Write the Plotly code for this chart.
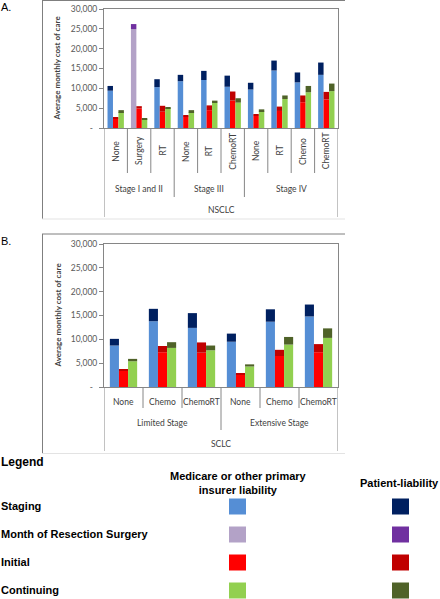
import plotly.graph_objects as go

W, H = 440, 599

# ---------------- Data: Panel A (NSCLC) ----------------
a_groups = ["Stage I and II"] * 3 + ["Stage III"] * 3 + ["Stage IV"] * 4
a_treat = ["None", "Surgery", "RT", "None", "RT", "ChemoRT", "None", "RT", "Chemo", "ChemoRT"]
a_staging_med = [9400, None, 10300, 11800, 12100, 10400, 9700, 14500, 11500, 13400]
a_staging_pat = [1200, None, 2000, 1600, 2300, 2800, 1700, 2500, 2500, 3100]
a_surgery_med = [None, 24900, None, None, None, None, None, None, None, None]
a_surgery_pat = [None, 1300, None, None, None, None, None, None, None, None]
a_initial_med = [2400, 4900, 4100, 2900, 4500, 6900, 3100, 4300, 6500, 7200]
a_initial_pat = [300, 600, 1500, 300, 1200, 2300, 200, 1100, 1700, 1900]
a_cont_med = [4000, 2200, 5000, 4000, 6300, 6400, 4200, 7300, 9000, 9300]
a_cont_pat = [500, 200, 300, 500, 600, 1100, 500, 900, 1600, 1900]

# ---------------- Data: Panel B (SCLC) ----------------
b_groups = ["Limited Stage"] * 3 + ["Extensive Stage"] * 3
b_treat = ["None", "Chemo", "ChemoRT", "None", "Chemo", "ChemoRT"]
b_staging_med = [8700, 13800, 12400, 9500, 13700, 14800]
b_staging_pat = [1400, 2600, 3100, 1700, 2600, 2500]
b_initial_med = [3400, 7300, 7200, 2700, 6500, 7300]
b_initial_pat = [200, 1300, 2150, 100, 1300, 1700]
b_cont_med = [5400, 8200, 7700, 4300, 8900, 10300]
b_cont_pat = [500, 1200, 1000, 450, 1600, 2000]

y_tickvals = [0, 5000, 10000, 15000, 20000, 25000, 30000]
y_ticktext = ["-\u00a0\u00a0", "5,000", "10,000", "15,000", "20,000", "25,000", "30,000"]

C = dict(stg_med="#558ED5", stg_pat="#002060", surg_med="#B3A2C7", surg_pat="#7030A0",
         init_med="#FF0000", init_pat="#C00000", cont_med="#92D050", cont_pat="#4F6228")

FONT = "Lato"
TXT = "#404040"
LINE = "#868686"


def py(p):
    return 1 - p / H


def pxx(p):
    return p / W


fig = go.Figure()


def base_of(vals):
    return [v if v is not None else 0 for v in vals]


def add_panel(xa, ya, groups, treat, series):
    cats = [f"{g} | {t}" for g, t in zip(groups, treat)]
    for med, pat, cm, cp, og in series:
        fig.add_trace(go.Bar(x=cats, y=med, marker_color=cm, marker_line_width=0,
                             offsetgroup=og, xaxis=xa, yaxis=ya, showlegend=False))
        fig.add_trace(go.Bar(x=cats, y=pat, base=base_of(med), marker_color=cp,
                             marker_line_width=0, offsetgroup=og, xaxis=xa, yaxis=ya,
                             showlegend=False))


add_panel("x", "y", a_groups, a_treat, [
    (a_staging_med, a_staging_pat, C["stg_med"], C["stg_pat"], "a"),
    (a_surgery_med, a_surgery_pat, C["surg_med"], C["surg_pat"], "a"),
    (a_initial_med, a_initial_pat, C["init_med"], C["init_pat"], "b"),
    (a_cont_med, a_cont_pat, C["cont_med"], C["cont_pat"], "c"),
])
add_panel("x2", "y2", b_groups, b_treat, [
    (b_staging_med, b_staging_pat, C["stg_med"], C["stg_pat"], "a"),
    (b_initial_med, b_initial_pat, C["init_med"], C["init_pat"], "b"),
    (b_cont_med, b_cont_pat, C["cont_med"], C["cont_pat"], "c"),
])

xdom = [pxx(104), pxx(338)]
ydomA = [py(128), py(9)]
ydomB = [py(387), py(244)]

xcommon = dict(showticklabels=False, ticks="", showline=True, linecolor=LINE, linewidth=1,
               mirror=True, showgrid=False, zeroline=False, fixedrange=True, automargin=False)
ycommon = dict(range=[0, 30000], tickvals=y_tickvals, ticktext=y_ticktext, showline=True,
               linecolor=LINE, linewidth=1, mirror=True, ticks="outside", ticklen=4,
               tickcolor=LINE, showgrid=False, zeroline=False, fixedrange=True, automargin=False,
               tickfont=dict(family=FONT, size=8.5, color="#595959"))

fig.update_layout(
    width=W, height=H, margin=dict(l=0, r=0, t=0, b=0, autoexpand=False),
    paper_bgcolor="white", plot_bgcolor="white",
    barmode="group", bargap=0.3, bargroupgap=0,
    xaxis=dict(domain=xdom, range=[-0.5, len(a_treat) - 0.5], anchor="y", **xcommon),
    yaxis=dict(domain=ydomA, anchor="x", **ycommon),
    xaxis2=dict(domain=xdom, range=[-0.5, len(b_treat) - 0.5], anchor="y2", **xcommon),
    yaxis2=dict(domain=ydomB, anchor="x2", **ycommon),
    font=dict(family=FONT, color=TXT),
)

shapes = []
annotations = []


def line(x0, y0, x1, y1, xref="paper", color=LINE, width=1):
    shapes.append(dict(type="line", xref=xref, yref="paper", x0=x0, y0=y0, x1=x1, y1=y1,
                       line=dict(color=color, width=width)))


def text(x, y, s, xref="paper", size=8.5, angle=0, bold=False, color=TXT, family=FONT,
         xanchor="center", yanchor="middle"):
    if bold:
        s = f"<b>{s}</b>"
    annotations.append(dict(x=x, y=y, xref=xref, yref="paper", text=s, showarrow=False,
                            textangle=angle, xanchor=xanchor, yanchor=yanchor, borderpad=0,
                            font=dict(family=family, size=size, color=color)))


def cat_axis(xref, groups, treat, outer, axis_y, lvl1_y, lvl2_y, lvl3_y,
             lab_y, grp_y, outer_y, rotate):
    n = len(treat)
    for i in range(n + 1):
        xpos = i - 0.5
        if i == 0 or i == n:
            yend = lvl3_y
        elif groups[i] != groups[i - 1]:
            yend = lvl2_y
        else:
            yend = lvl1_y
        line(xpos, py(axis_y), xpos, py(yend), xref=xref)
    for i, t in enumerate(treat):
        text(i, py(lab_y), t, xref=xref, size=8.5, angle=-90 if rotate else 0)
    uniq = []
    for g in groups:
        if g not in uniq:
            uniq.append(g)
    for g in uniq:
        idx = [i for i, gg in enumerate(groups) if gg == g]
        text(sum(idx) / len(idx), py(grp_y), g, xref=xref, size=8.5)
    text((n - 1) / 2, py(outer_y), outer, xref=xref, size=8.5)


cat_axis("x", a_groups, a_treat, "NSCLC", 128, 173, 197, 217, 151, 189, 210, True)
cat_axis("x2", b_groups, b_treat, "SCLC", 387, 408, 430, 451, 401.5, 423, 444, False)

# outer frames
for top, bot in [(0.5, 219), (234, 453.5)]:
    line(pxx(42.5), py(top), pxx(42.5), py(bot), color="#7f7f7f")
    line(pxx(42), py(top), pxx(345), py(top), color="#7f7f7f")
    line(pxx(42), py(bot), pxx(345), py(bot), color="#e3e3e3")

# y-axis titles
text(pxx(57), py(68.5), "Average monthly cost of care", size=8, angle=-90, bold=True)
text(pxx(57), py(315.5), "Average monthly cost of care", size=8, angle=-90, bold=True)

# panel letters
LF = "Liberation Sans"
text(0, py(7.5), "A.", size=11, color="#000000", family=LF, xanchor="left")
text(0, py(241), "B.", size=11, color="#000000", family=LF, xanchor="left")

# legend block
text(0, py(462), "Legend", size=12, bold=True, color="#000000", family=LF, xanchor="left")
text(pxx(238), py(482.5), "Medicare or other primary<br>insurer liability", size=11,
     bold=True, color="#000000", family=LF)
text(1, py(483), "Patient-liability", size=11, bold=True, color="#000000", family=LF,
     xanchor="right")

leg_rows = ["Staging", "Month of Resection Surgery", "Initial", "Continuing"]
leg_med = [C["stg_med"], C["surg_med"], C["init_med"], C["cont_med"]]
leg_pat = [C["stg_pat"], C["surg_pat"], C["init_pat"], C["cont_pat"]]
for k, (lab, cm, cp) in enumerate(zip(leg_rows, leg_med, leg_pat)):
    yc = 506.5 + 28 * k
    text(0, py(yc - 1), lab, size=11, bold=True, color="#000000", family=LF, xanchor="left")
    for x0, col in [(229, cm), (392, cp)]:
        shapes.append(dict(type="rect", xref="paper", yref="paper", x0=pxx(x0), x1=pxx(x0 + 17),
                           y0=py(yc - 8), y1=py(yc + 8), fillcolor=col, line=dict(width=0)))

fig.update_layout(shapes=shapes, annotations=annotations)
fig.write_html("out.html", config={"displayModeBar": False},
               post_script="document.body.style.margin='0px';document.body.style.overflow='hidden';")
